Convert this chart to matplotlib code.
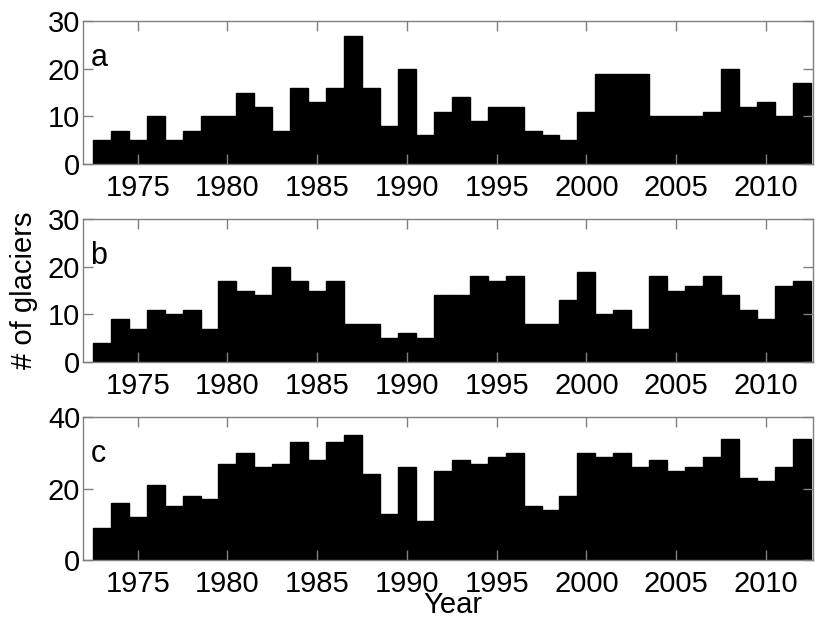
import matplotlib
matplotlib.use("Agg")
import matplotlib.pyplot as plt
import numpy as np

# glacier counts per year
years = np.arange(1973, 2013)

counts_a = [5, 7, 5, 10, 5, 7, 10, 10, 15, 12,
            7, 16, 13, 16, 27, 16, 8, 20, 6, 11,
            14, 9, 12, 12, 7, 6, 5, 11, 19, 19,
            19, 10, 10, 10, 11, 20, 12, 13, 10, 17]
counts_b = [4, 9, 7, 11, 10, 11, 7, 17, 15, 14,
            20, 17, 15, 17, 8, 8, 5, 6, 5, 14,
            14, 18, 17, 18, 8, 8, 13, 19, 10, 11,
            7, 18, 15, 16, 18, 14, 11, 9, 16, 17]
counts_c = [9, 16, 12, 21, 15, 18, 17, 27, 30, 26,
            27, 33, 28, 33, 35, 24, 13, 26, 11, 25,
            28, 27, 29, 30, 15, 14, 18, 30, 29, 30,
            26, 28, 25, 26, 29, 34, 23, 22, 26, 34]

panel_labels = ['a', 'b', 'c']
ylims = [30, 30, 40]
yticks = [[0, 10, 20, 30], [0, 10, 20, 30], [0, 20, 40]]
xticks = [1975, 1980, 1985, 1990, 1995, 2000, 2005, 2010]

plt.rcParams['font.family'] = ['Liberation Sans', 'DejaVu Sans']

fig = plt.figure(figsize=(8.17, 6.24), dpi=100)
bottoms = [0.7372, 0.4199, 0.1026]
grey = '#808080'

for i, counts in enumerate([counts_a, counts_b, counts_c]):
    ax = fig.add_axes([0.1016, bottoms[i], 0.8929, 0.2287])
    ax.bar(years, counts, width=1.0, color='black', edgecolor='black', linewidth=1.0)
    ax.set_xlim(1971.95, 2012.6)
    ax.set_ylim(0, ylims[i])
    ax.set_xticks(xticks)
    ax.set_yticks(yticks[i])
    for s in ax.spines.values():
        s.set_color(grey)
        s.set_linewidth(1.0)
        s.set_zorder(3)
    ax.tick_params(direction='in', length=7, width=1.0, color=grey,
                   labelsize=21, top=True, right=True)
    ax.tick_params(axis='x', pad=7)
    ax.tick_params(axis='y', pad=2)
    ax.text(0.01, 0.69, panel_labels[i], transform=ax.transAxes,
            fontsize=22, ha='left', va='baseline')

fig.text(24 / 817, 0.5 + (312 - 290) / 624, '# of glaciers', rotation=90,
         fontsize=21, ha='center', va='center')
fig.text(0.554, 0.031, 'Year', fontsize=21, ha='center', va='center')

fig.savefig('out.png', dpi=100)
